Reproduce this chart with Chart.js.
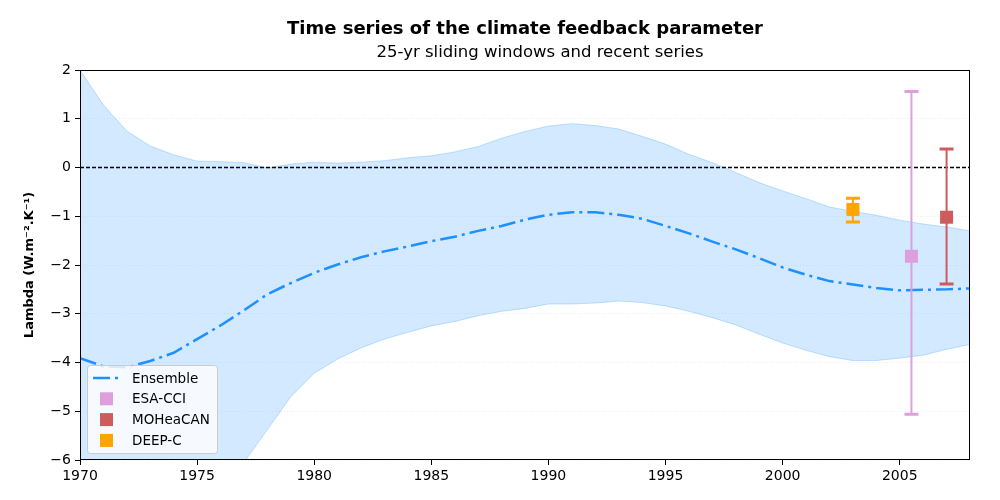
<!DOCTYPE html>
<html>
<head>
<meta charset="utf-8">
<script src="https://cdn.jsdelivr.net/npm/chart.js@4.4.1/dist/chart.umd.min.js"></script>
<style>html,body{margin:0;background:#fff}</style>
</head>
<body>
<canvas id="c" width="1000" height="500"></canvas>
<script>
// data
const years = [1970, 1971, 1972, 1973, 1974, 1975, 1976, 1977, 1978, 1979,
  1980, 1981, 1982, 1983, 1984, 1985, 1986, 1987, 1988, 1989,
  1990, 1991, 1992, 1993, 1994, 1995, 1996, 1997, 1998, 1999,
  2000, 2001, 2002, 2003, 2004, 2005, 2006, 2007, 2008];
const ensemble = [-3.91, -4.08, -4.1, -3.97, -3.8, -3.52, -3.24, -2.93, -2.6, -2.37,
  -2.16, -1.99, -1.84, -1.72, -1.62, -1.51, -1.42, -1.3, -1.2, -1.07,
  -0.97, -0.92, -0.92, -0.97, -1.05, -1.2, -1.35, -1.52, -1.68, -1.86,
  -2.05, -2.2, -2.33, -2.4, -2.47, -2.52, -2.51, -2.5, -2.48];
const bandUpper = [2.0, 1.28, 0.75, 0.44, 0.26, 0.13, 0.12, 0.1, -0.01, 0.07,
  0.11, 0.09, 0.11, 0.14, 0.2, 0.24, 0.32, 0.43, 0.6, 0.74,
  0.85, 0.9, 0.86, 0.79, 0.64, 0.48, 0.27, 0.1, -0.1, -0.31,
  -0.48, -0.64, -0.81, -0.9, -0.98, -1.08, -1.16, -1.22, -1.3];
const bandLower = [-9.0, -9.4, -9.2, -8.7, -8.0, -7.3, -6.7, -6.05, -5.38, -4.7,
  -4.22, -3.93, -3.7, -3.52, -3.38, -3.25, -3.16, -3.04, -2.95, -2.89,
  -2.8, -2.8, -2.78, -2.74, -2.77, -2.84, -2.95, -3.08, -3.23, -3.42,
  -3.6, -3.75, -3.88, -3.96, -3.96, -3.91, -3.85, -3.73, -3.63];

const obsNames = ['ESA-CCI', 'MOHeaCAN', 'DEEP-C'];
const obsYears = [2005.5, 2007, 2003];
const obsValues = [-1.82, -1.02, -0.86];
const obsLow = [-5.06, -2.39, -1.12];
const obsHigh = [1.56, 0.38, -0.63];
const obsColors = ['#DDA0DD', '#CD5C5C', '#FFA500'];

const xTicks = [1970, 1975, 1980, 1985, 1990, 1995, 2000, 2005];
const yTicks = [-6, -5, -4, -3, -2, -1, 0, 1, 2];

const FONT = "'DejaVu Sans', sans-serif";
const BLUE = '#1E90FF';
const ENS_DASH = [17, 5, 3, 5];

const pts = (xs, ys) => xs.map((x, i) => ({ x, y: ys[i] }));

// error bars drawn just before each observation's marker
const errorBars = {
  id: 'errorBars',
  beforeDatasetDraw(chart, args) {
    const ds = chart.data.datasets[args.index];
    if (ds.obs === undefined) return;
    const i = ds.obs;
    const { ctx } = chart;
    const x = chart.scales.x.getPixelForValue(obsYears[i]);
    const lo = chart.scales.y.getPixelForValue(obsLow[i]);
    const hi = chart.scales.y.getPixelForValue(obsHigh[i]);
    ctx.save();
    ctx.strokeStyle = obsColors[i];
    ctx.lineWidth = 2;
    ctx.beginPath();
    ctx.moveTo(x, lo);
    ctx.lineTo(x, hi);
    ctx.stroke();
    ctx.lineWidth = 3;
    ctx.beginPath();
    ctx.moveTo(x - 7, lo);
    ctx.lineTo(x + 7, lo);
    ctx.moveTo(x - 7, hi);
    ctx.lineTo(x + 7, hi);
    ctx.stroke();
    ctx.restore();
  },
};

// frame, titles and the inset legend
const decorations = {
  id: 'decorations',
  afterDraw(chart) {
    const { ctx, chartArea: a } = chart;
    ctx.save();
    ctx.strokeStyle = '#000';
    ctx.lineWidth = 1;
    ctx.strokeRect(a.left + 0.5, a.top + 0.5, a.width - 1, a.height - 1);

    const cx = (a.left + a.right) / 2;
    ctx.fillStyle = '#000';
    ctx.textAlign = 'center';
    ctx.textBaseline = 'middle';
    ctx.font = `bold 18px ${FONT}`;
    ctx.fillText('Time series of the climate feedback parameter', cx, 29);
    ctx.font = `16.5px ${FONT}`;
    ctx.fillText('25-yr sliding windows and recent series', cx + 15, 53);

    // legend
    const lx = a.left + 7;
    const ly = a.bottom - 95;
    ctx.fillStyle = 'rgba(255,255,255,0.8)';
    ctx.strokeStyle = '#cccccc';
    ctx.beginPath();
    ctx.roundRect(lx + 0.5, ly + 0.5, 130, 88, 3);
    ctx.fill();
    ctx.stroke();

    const rows = ['Ensemble'].concat(obsNames);
    ctx.font = `13.5px ${FONT}`;
    ctx.textAlign = 'left';
    rows.forEach((name, k) => {
      const y = ly + 13 + k * 20.8;
      if (k === 0) {
        ctx.strokeStyle = BLUE;
        ctx.lineWidth = 2.5;
        ctx.setLineDash(ENS_DASH);
        ctx.beginPath();
        ctx.moveTo(lx + 6, y);
        ctx.lineTo(lx + 32, y);
        ctx.stroke();
        ctx.setLineDash([]);
      } else {
        ctx.fillStyle = obsColors[k - 1];
        ctx.fillRect(lx + 13, y - 6.5, 13, 13);
      }
      ctx.fillStyle = '#000';
      ctx.fillText(name, lx + 45, y + 1);
    });
    ctx.restore();
  },
};

// lower "order" is drawn on top
const obsDatasets = obsNames.map((name, i) => ({
  type: 'scatter',
  label: name,
  obs: i,
  order: 1,
  data: [{ x: obsYears[i], y: obsValues[i] }],
  pointStyle: 'rect',
  pointRadius: 9.2,
  backgroundColor: obsColors[i],
  borderColor: obsColors[i],
  borderWidth: 0,
}));

new Chart(document.getElementById('c'), {
  type: 'line',
  data: {
    datasets: [
      {
        label: 'upper',
        order: 5,
        data: pts(years, bandUpper),
        borderColor: 'rgba(30,144,255,0.25)',
        borderWidth: 1,
        backgroundColor: 'rgba(30,144,255,0.2)',
        fill: '+1',
        pointRadius: 0,
      },
      {
        label: 'lower',
        order: 4,
        data: pts(years, bandLower),
        borderColor: 'rgba(30,144,255,0.25)',
        borderWidth: 1,
        fill: false,
        pointRadius: 0,
      },
      {
        label: 'Ensemble',
        order: 3,
        data: pts(years, ensemble),
        borderColor: BLUE,
        borderWidth: 2.5,
        borderDash: ENS_DASH,
        fill: false,
        pointRadius: 0,
      },
      {
        label: 'zero',
        order: 2,
        data: pts([1970, 2008], [0, 0]),
        borderColor: '#000',
        borderWidth: 1.3,
        borderDash: [4, 2],
        fill: false,
        pointRadius: 0,
      },
      ...obsDatasets,
    ],
  },
  options: {
    responsive: false,
    animation: false,
    devicePixelRatio: 1,
    layout: { padding: { top: 70, right: 30, left: 0, bottom: 0 } },
    plugins: {
      legend: { display: false },
      title: { display: false },
      tooltip: { enabled: false },
      filler: { propagate: false },
    },
    scales: {
      x: {
        type: 'linear',
        min: 1970,
        max: 2008,
        afterBuildTicks: (scale) => { scale.ticks = xTicks.map((v) => ({ value: v })); },
        afterFit: (scale) => { scale.height = 40; },
        ticks: {
          color: '#000',
          font: { family: FONT, size: 14 },
          padding: 3,
          maxRotation: 0,
          callback: (v) => String(v),
        },
        grid: { drawOnChartArea: false, drawTicks: true, tickLength: 5, color: '#000' },
        border: { display: false },
      },
      y: {
        min: -6,
        max: 2,
        afterBuildTicks: (scale) => { scale.ticks = yTicks.map((v) => ({ value: v })); },
        afterFit: (scale) => { scale.width = 80; },
        ticks: {
          color: '#000',
          font: { family: FONT, size: 14 },
          padding: 4,
          callback: (v) => String(v).replace('-', '\u2212'),
        },
        grid: {
          color: 'rgba(0,0,0,0.07)',
          tickColor: '#000',
          tickLength: 5,
          lineWidth: 1,
        },
        border: { display: false, dash: [1, 2] },
        title: {
          display: true,
          text: 'Lambda (W.m\u207B\u00B2.K\u207B\u00B9)',
          color: '#000',
          font: { family: FONT, size: 13, weight: 'bold' },
          padding: { top: 22, bottom: 0 },
        },
      },
    },
  },
  plugins: [errorBars, decorations],
});
</script>
</body>
</html>
